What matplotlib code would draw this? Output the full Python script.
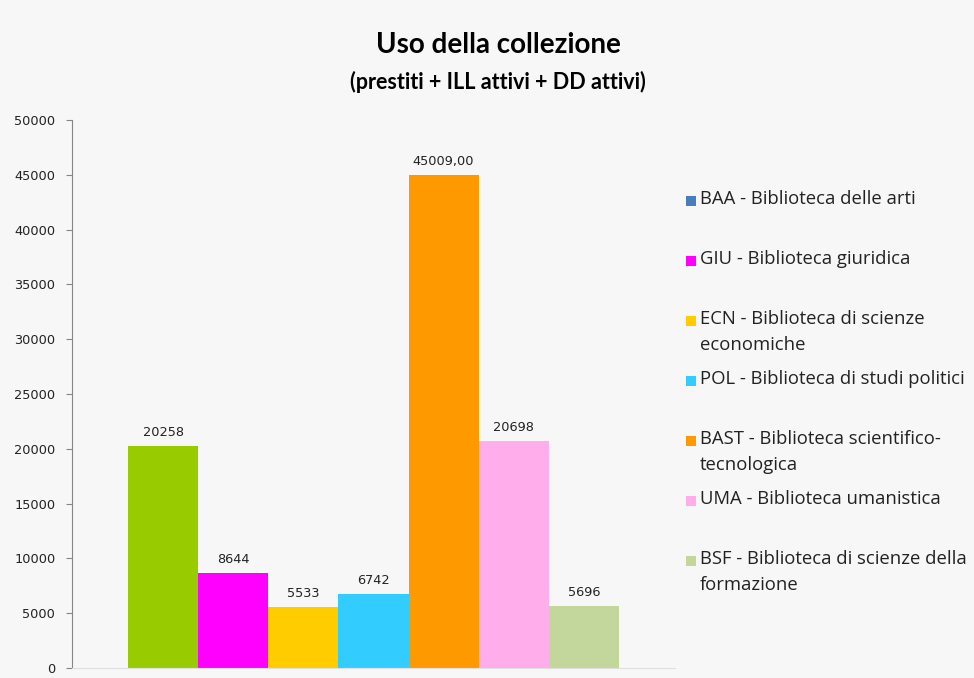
import matplotlib
matplotlib.use('Agg')
import matplotlib.pyplot as plt
from matplotlib.patches import Rectangle

# dati
biblioteche = ['BAA - Biblioteca delle arti',
               'GIU - Biblioteca giuridica',
               'ECN - Biblioteca di scienze\neconomiche',
               'POL - Biblioteca di studi politici',
               'BAST - Biblioteca scientifico-\ntecnologica',
               'UMA - Biblioteca umanistica',
               'BSF - Biblioteca di scienze della\nformazione']
valori = [20258, 8644, 5533, 6742, 45009, 20698, 5696]
etichette = ['20258', '8644', '5533', '6742', '45009,00', '20698', '5696']
colori_barre = ['#99CC00', '#FF00FF', '#FFCC00', '#33CCFF', '#FF9900', '#FFADEB', '#C3D69B']
colori_legenda = ['#4A7EBB', '#FF00FF', '#FFCC00', '#33CCFF', '#FF9900', '#FFADEB', '#C3D69B']
yticks = [0, 5000, 10000, 15000, 20000, 25000, 30000, 35000, 40000, 45000, 50000]

sfondo = '#F7F7F7'
fig = plt.figure(figsize=(9.74, 6.78), dpi=100, facecolor=sfondo)
ax = fig.add_axes([72 / 974, 10 / 678, 603 / 974, 548 / 678])
ax.set_facecolor(sfondo)

x = list(range(len(valori)))
ax.bar(x, valori, width=1.0, color=colori_barre, edgecolor='none')
for xi, v, t in zip(x, valori, etichette):
    ax.annotate(t, (xi, v), xytext=(0, 5), textcoords='offset points',
                ha='center', va='bottom', fontsize=9.3, color='#222222',
                family='DejaVu Sans')

ax.set_xlim(-1.3, 7.3)
ax.set_ylim(0, 50000)
ax.set_yticks(yticks)
ax.set_yticklabels([str(t) for t in yticks], fontsize=9.3, color='#222222')
ax.set_xticks([])
ax.tick_params(axis='y', direction='out', length=4, color='#868686', pad=8)
for s in ['top', 'right']:
    ax.spines[s].set_visible(False)
ax.spines['left'].set_color('#868686')
ax.spines['bottom'].set_color('#E0E0E0')

# titolo
fig.text(498 / 974, 1 - 45 / 678, 'Uso della collezione', ha='center', va='center',
         fontsize=20, fontweight='bold', family='Lato')
fig.text(498 / 974, 1 - 82 / 678, '(prestiti + ILL attivi + DD attivi)', ha='center',
         va='center', fontsize=15.5, fontweight='bold', family='Lato')

# legenda
for i, (lab, col) in enumerate(zip(biblioteche, colori_legenda)):
    yc = 201 + 60 * i
    fig.patches.append(Rectangle((686 / 974, 1 - (yc + 5) / 678), 10 / 974, 10 / 678,
                                 transform=fig.transFigure, facecolor=col,
                                 edgecolor='none'))
    fig.text(700 / 974, 1 - (yc - 11) / 678, lab, ha='left', va='top', fontsize=13.3,
             family='Open Sans', color='#222222', linespacing=1.55)

plt.savefig('out.png', dpi=100, facecolor=sfondo)
plt.close()
